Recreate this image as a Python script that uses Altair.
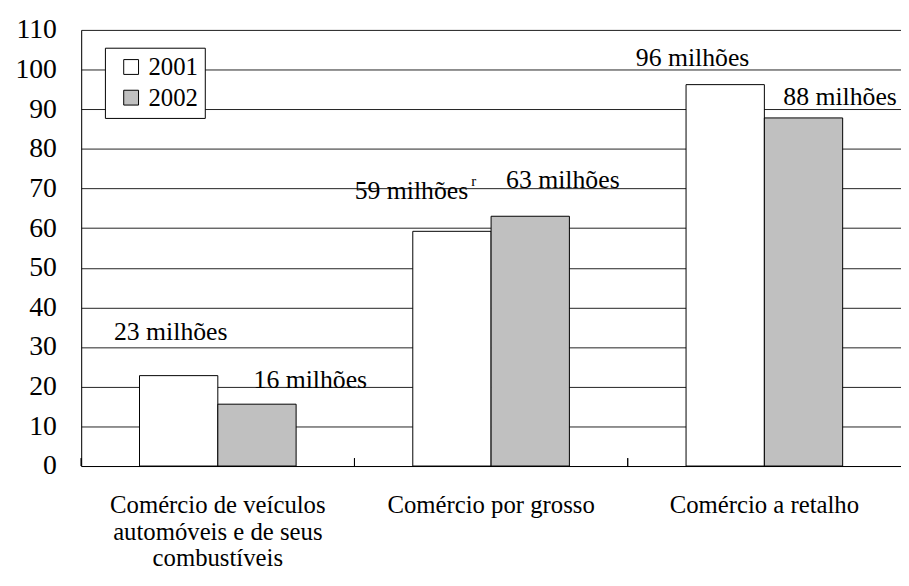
import altair as alt
import pandas as pd

categories = [
    "Comércio de veículos automóveis e de seus combustíveis",
    "Comércio por grosso",
    "Comércio a retalho",
]
years = ["2001", "2002"]
values_2001 = [22.8, 59.2, 96.2]
values_2002 = [15.6, 63.0, 87.8]
labels_2001 = ["23 milhões", "59 milhões", "96 milhões"]
labels_2002 = ["16 milhões", "63 milhões", "88 milhões"]
y_ticks = list(range(0, 111, 10))

rows = []
for i, c in enumerate(categories):
    rows.append({"category": c, "year": "2001", "value": values_2001[i], "label": labels_2001[i], "idx": 2 * i})
    rows.append({"category": c, "year": "2002", "value": values_2002[i], "label": labels_2002[i], "idx": 2 * i + 1})
df = pd.DataFrame(rows)

FONT = "Liberation Serif, Times New Roman, Times, serif"
W, H = 829, 441

x_enc = alt.X(
    "category:N",
    sort=categories,
    scale=alt.Scale(paddingInner=0, paddingOuter=0),
    axis=alt.Axis(
        title=None, labelAngle=0, ticks=False, grid=False, domainColor="black",
        labelFont=FONT, labelFontSize=25, labelColor="black", labelLineHeight=27,
        labelPadding=27, labelLimit=400,
        labelExpr="datum.label == 'Comércio de veículos automóveis e de seus combustíveis' ? ['Comércio de veículos', 'automóveis e de seus', 'combustíveis'] : datum.label",
    ),
)
xoff = alt.XOffset("year:N", sort=years, scale=alt.Scale(paddingInner=0, paddingOuter=0.745))
y_enc = alt.Y(
    "value:Q",
    scale=alt.Scale(domain=[0, 110], nice=False),
    axis=alt.Axis(
        title=None, values=y_ticks, ticks=False, grid=True, gridColor="#222222",
        gridWidth=1, domainColor="black", labelFont=FONT, labelFontSize=28,
        labelColor="black", labelPadding=25, labelBaseline="middle",
    ),
)

base = alt.Chart(df)

bars = base.mark_bar(stroke="black", strokeWidth=1).encode(
    x=x_enc,
    xOffset=xoff,
    y=y_enc,
    fill=alt.Fill(
        "year:N",
        scale=alt.Scale(domain=years, range=["white", "#c0c0c0"]),
        legend=alt.Legend(
            title=None, orient="none", legendX=24, legendY=18,
            strokeColor="black", fillColor="white", padding=7,
            symbolType="square", symbolSize=225, symbolStrokeColor="black",
            symbolStrokeWidth=1, symbolOffset=7, labelFont=FONT, labelFontSize=25,
            labelColor="black", labelOffset=5, rowPadding=5,
        ),
    ),
)

# label offsets (style): dx, dy relative to top-centre of each bar
label_offsets = [(-8, -36), (54, -16), (-41, -33), (33, -29), (-33, -19), (37, -13)]

layers = [bars]
for i, (dx, dy) in enumerate(label_offsets):
    layers.append(
        base.transform_filter(alt.datum.idx == i)
        .mark_text(font=FONT, fontSize=26, color="black", dx=dx, dy=dy, baseline="alphabetic")
        .encode(x=alt.X("category:N", sort=categories), xOffset=alt.XOffset("year:N", sort=years), y="value:Q", text="label:N")
    )

# superscript "r" for the revised 2001 wholesale figure
layers.append(
    base.transform_filter(alt.datum.idx == 2)
    .mark_text(font=FONT, fontSize=15, color="black", dx=22, dy=-46, baseline="alphabetic", text="r")
    .encode(x=alt.X("category:N", sort=categories), xOffset=alt.XOffset("year:N", sort=years), y="value:Q")
)

# inward category ticks on the x axis
layers.append(
    base.mark_rule(color="black", strokeWidth=1).encode(
        x=alt.X("category:N", sort=categories, bandPosition=0),
        y=alt.value(H - 8),
        y2=alt.value(H),
    )
)

chart = alt.layer(*layers).properties(
    width=W, height=H,
    autosize=alt.AutoSizeParams(type="none"),
    padding={"left": 74, "top": 19, "right": 0, "bottom": 105},
).configure_view(stroke=None).configure(background="white")

chart.save("out.html", embed_options={"renderer": "svg", "actions": False})
